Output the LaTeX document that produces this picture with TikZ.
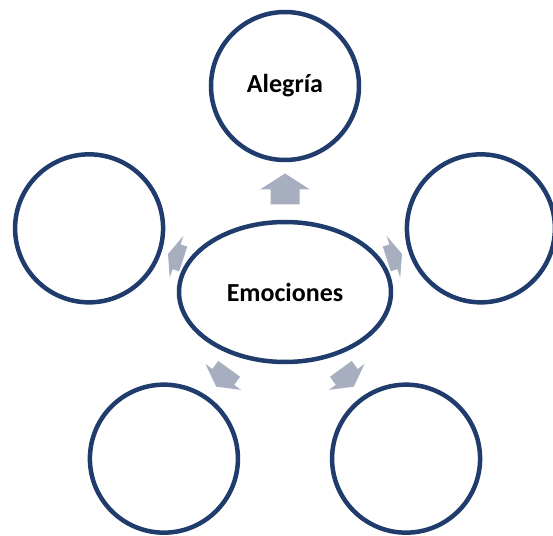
\documentclass[tikz,border=0pt]{standalone}
\usepackage{fontspec}
\setmainfont{Carlito}
\usetikzlibrary{shapes.geometric}

\definecolor{ringblue}{RGB}{32,60,108}
\definecolor{arrowgrey}{RGB}{166,174,191}

\tikzset{
    ring/.style={circle, draw=ringblue, line width=4.5pt, fill=white, minimum size=148pt, inner sep=0pt},
    hub/.style={ellipse, draw=ringblue, line width=4.5pt, fill=white, minimum width=212pt, minimum height=140pt, inner sep=0pt},
    label/.style={font=\fontsize{26}{30}\selectfont\bfseries},
    blockarrow/.style={fill=arrowgrey, draw=none}
}

\begin{document}
\begin{tikzpicture}[x=1pt, y=1pt]
        \useasboundingbox (-285,-243) rectangle (268,292);

        % centre
        \node[hub, label] (emo) at (0,0) {Emociones};

        % outer circles
        \node[ring, label] (alegria) at (90:206) {Alegría};
        \node[ring] (left) at (162:206) {};
        \node[ring] (botleft) at (234:206) {};
        \node[ring] (botright) at (306:206) {};
        \node[ring] (right) at (18:206) {};

        % arrows: angle / distance / length / head length / head width / shaft width
        \foreach \a/\d/\l/\h/\w/\s in {90/103/31/16/50/29, 162/115/16/9/44/26, 18/115/16/9/44/26, 234/106/22/12/44/27, 306/106/22/12/44/27} {
            \fill[blockarrow, shift={(\a:\d)}, rotate=\a]
                (-\l/2,-\s/2) -- (\l/2-\h,-\s/2) -- (\l/2-\h,-\w/2) -- (\l/2,0)
                -- (\l/2-\h,\w/2) -- (\l/2-\h,\s/2) -- (-\l/2,\s/2) -- cycle;
        }
    \end{tikzpicture}
\end{document}
